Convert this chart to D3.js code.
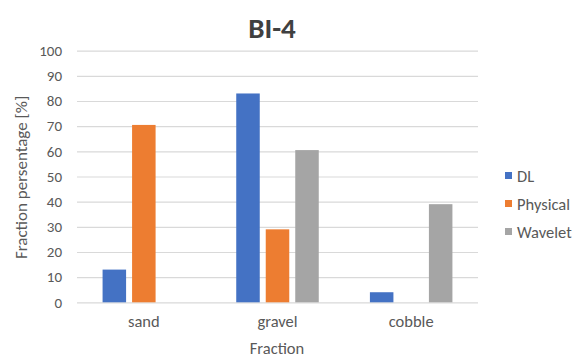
<!DOCTYPE html>
<html>
<head>
<meta charset="utf-8">
<script src="https://cdn.jsdelivr.net/npm/d3@7"></script>
<style>
  html, body { margin: 0; padding: 0; background: #fff; }
  svg { display: block; }
  text { font-family: Carlito, Calibri, Lato, "Open Sans", sans-serif; }
</style>
</head>
<body>
<svg id="chart" width="584" height="360"></svg>
<script>
// Grain-size fractions for station BI-4, by method
const categories = ["sand", "gravel", "cobble"];
const seriesNames = ["DL", "Physical", "Wavelet"];
const dlValues = [13, 83, 4];
const physicalValues = [70.5, 29, 0];
const waveletValues = [0, 60.5, 39];
const yTicks = [0, 10, 20, 30, 40, 50, 60, 70, 80, 90, 100];
const seriesColors = ["#4472C4", "#ED7D31", "#A5A5A5"];

const seriesValues = [dlValues, physicalValues, waveletValues];
const rows = categories.map((c, i) => ({
  category: c,
  values: seriesNames.map((s, j) => ({ series: s, value: seriesValues[j][i] }))
}));

const svg = d3.select("#chart");
const plot = { left: 77, right: 478, top: 50.7, bottom: 302.3 };

const x0 = d3.scaleBand().domain(categories).range([plot.left, plot.right]).padding(0);
const x1 = d3.scaleBand().domain(seriesNames).range([0, x0.bandwidth()])
  .paddingInner(0.203).paddingOuter(0.867);
const y = d3.scaleLinear().domain([0, 100]).range([plot.bottom, plot.top]);
const color = d3.scaleOrdinal().domain(seriesNames).range(seriesColors);

// Horizontal gridlines and value labels
const yAxis = d3.axisLeft(y).tickValues(yTicks).tickSize(-(plot.right - plot.left)).tickPadding(15);
const gy = svg.append("g").attr("transform", `translate(${plot.left},0)`).call(yAxis);
gy.select(".domain").remove();
gy.selectAll(".tick line").attr("stroke", "#D9D9D9").attr("stroke-width", 1.2);
gy.selectAll(".tick text").attr("fill", "#595959").style("font-size", "15px");

// Bars
const groups = svg.append("g").selectAll("g").data(rows).join("g")
  .attr("transform", d => `translate(${x0(d.category)},0)`);
groups.selectAll("rect").data(d => d.values.filter(v => v.value > 0)).join("rect")
  .attr("x", d => x1(d.series))
  .attr("width", x1.bandwidth())
  .attr("y", d => y(d.value))
  .attr("height", d => y(0) - y(d.value))
  .attr("fill", d => color(d.series));

// Category axis labels
const xAxis = d3.axisBottom(x0).tickSize(0).tickPadding(13);
const gx = svg.append("g").attr("transform", `translate(0,${plot.bottom})`).call(xAxis);
gx.select(".domain").remove();
gx.selectAll(".tick text").attr("fill", "#595959").style("font-size", "16.5px");

// Title
svg.append("text").attr("x", 272).attr("y", 38).attr("text-anchor", "middle")
  .attr("fill", "#404040").style("font-size", "29px").style("font-weight", "bold").text("BI-4");

// Axis titles
svg.append("text").attr("x", 277).attr("y", 354).attr("text-anchor", "middle")
  .attr("fill", "#595959").style("font-size", "16.5px").text("Fraction");
svg.append("text").attr("transform", `translate(27,${(plot.top + plot.bottom) / 2 + 1}) rotate(-90)`)
  .attr("text-anchor", "middle").attr("fill", "#595959").style("font-size", "17px")
  .text("Fraction persentage [%]");

// Legend
const legend = svg.append("g").attr("transform", "translate(505,176)");
const li = legend.selectAll("g").data(seriesNames).join("g")
  .attr("transform", (d, i) => `translate(0,${i * 28})`);
li.append("rect").attr("x", 0).attr("y", -4).attr("width", 7).attr("height", 7).attr("fill", d => color(d));
li.append("text").attr("x", 12).attr("y", 0).attr("dy", "0.35em").attr("fill", "#595959")
  .style("font-size", "16.5px").text(d => d);
</script>
</body>
</html>
